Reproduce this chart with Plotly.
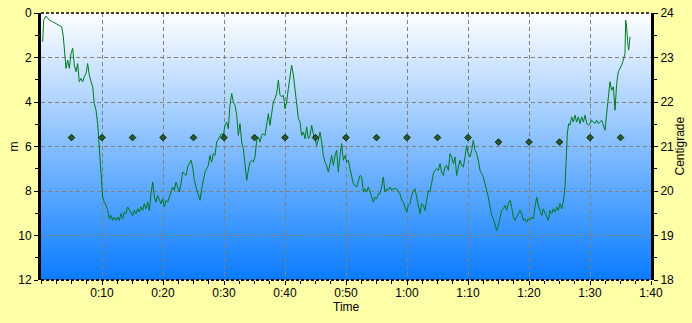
import base64
import plotly.graph_objects as go

# ---------------- data ----------------
time_min = [
    0.27, 0.44, 0.82, 1.37, 1.91, 2.46, 3.01, 3.39, 3.66, 3.83, 4.10, 4.37, 4.64, 4.92, 5.19, 5.46, 5.74,
    6.01, 6.28, 6.56, 6.83, 7.10, 7.38, 7.65, 7.92, 8.20, 8.47, 8.74, 9.02, 9.29, 9.56, 9.84, 10.11,
    10.38, 10.66, 10.93, 11.20, 11.48, 11.75, 12.02, 12.30, 12.57, 12.84, 13.11, 13.39, 13.66, 13.93,
    14.21, 14.48, 14.75, 15.03, 15.30, 15.57, 15.85, 16.12, 16.39, 16.67, 16.94, 17.21, 17.49, 17.76,
    18.03, 18.31, 18.58, 18.85, 19.13, 19.40, 19.67, 19.95, 20.22, 20.49, 20.77, 21.04, 21.31, 21.58,
    21.86, 22.13, 22.40, 22.68, 22.95, 23.22, 23.50, 23.77, 24.04, 24.32, 24.59, 24.86, 25.14, 25.41,
    25.68, 26.07, 26.34, 26.61, 26.89, 27.16, 27.43, 27.70, 27.98, 28.25, 28.52, 28.80, 29.07, 29.34,
    29.62, 29.89, 30.16, 30.44, 30.71, 30.98, 31.26, 31.53, 31.80, 32.08, 32.35, 32.62, 32.90, 33.17,
    33.44, 33.72, 33.99, 34.26, 34.54, 34.81, 35.08, 35.36, 35.63, 35.90, 36.17, 36.45, 36.72, 36.99,
    37.27, 37.54, 37.81, 38.09, 38.36, 38.63, 38.91, 39.18, 39.45, 39.73, 40.00, 40.27, 40.55, 40.82,
    41.09, 41.37, 41.64, 41.91, 42.19, 42.46, 42.73, 43.01, 43.28, 43.55, 43.83, 44.10, 44.37, 44.64,
    44.92, 45.19, 45.46, 45.74, 46.01, 46.28, 46.56, 46.83, 47.10, 47.38, 47.65, 47.92, 48.20, 48.47,
    48.74, 49.02, 49.29, 49.56, 49.84, 50.11, 50.38, 50.66, 51.20, 51.75, 52.30, 52.57, 52.84, 53.11,
    53.39, 53.66, 53.93, 54.21, 54.48, 54.75, 55.03, 55.30, 55.57, 55.85, 56.12, 56.39, 56.67, 56.94,
    57.21, 57.49, 57.76, 58.31, 58.58, 58.85, 59.13, 59.40, 59.67, 59.95, 60.22, 60.49, 60.77, 61.04,
    61.31, 61.58, 61.86, 62.13, 62.40, 62.68, 62.95, 63.22, 63.50, 63.77, 64.04, 64.32, 64.59, 64.86,
    65.14, 65.41, 65.68, 65.96, 66.23, 66.50, 66.78, 67.05, 67.32, 67.60, 67.87, 68.14, 68.42, 68.69,
    68.96, 69.23, 69.51, 69.78, 70.05, 70.33, 70.60, 70.87, 71.15, 71.42, 71.69, 71.97, 72.24, 72.51,
    72.79, 73.06, 73.33, 73.61, 73.88, 74.15, 74.43, 74.70, 74.97, 75.25, 75.52, 75.79, 76.07, 76.34,
    76.61, 76.89, 77.16, 77.43, 77.70, 77.98, 78.25, 78.52, 78.80, 79.07, 79.34, 79.62, 79.89, 80.16,
    80.44, 80.71, 80.98, 81.26, 81.53, 81.80, 82.08, 82.35, 82.62, 82.90, 83.17, 83.44, 83.72, 83.99,
    84.26, 84.54, 84.81, 85.08, 85.36, 85.63, 85.90, 86.07, 86.28, 86.50, 86.72, 86.99, 87.27, 87.54,
    87.81, 88.09, 88.36, 88.63, 88.91, 89.18, 89.45, 89.73, 90.00, 90.27, 90.55, 90.82, 91.09, 91.37,
    91.64, 91.91, 92.19, 92.46, 92.73, 93.01, 93.28, 93.55, 93.83, 94.10, 94.37, 94.64, 94.92, 95.19,
    95.46, 95.74, 95.85, 96.01, 96.17, 96.34, 96.56,
]
depth_m = [
    1.29, 0.32, 0.14, 0.32, 0.39, 0.47, 0.54, 0.62, 1.07, 1.67, 2.49, 2.12, 2.49, 1.82, 1.59, 2.34, 2.64,
    2.27, 3.09, 2.94, 3.09, 2.87, 2.72, 2.27, 2.79, 3.09, 3.32, 4.07, 4.37, 4.97, 6.17, 7.37, 8.27,
    8.50, 8.65, 8.87, 9.25, 9.10, 9.32, 9.17, 9.32, 9.17, 9.32, 9.02, 9.25, 8.94, 9.02,
    8.72, 8.87, 9.02, 9.10, 8.87, 9.02, 8.80, 8.94, 8.72, 8.87, 8.57, 8.80, 8.50, 8.87,
    8.12, 7.60, 8.27, 8.50, 8.20, 8.42, 8.57, 8.35, 8.72, 8.42, 8.50, 8.27, 8.05, 7.82,
    7.97, 7.60, 7.82, 8.05, 7.67, 7.15, 7.22, 7.30, 6.92, 6.77, 6.62, 6.92, 7.52, 7.82,
    8.05, 8.42, 7.90, 7.45, 7.15, 7.00, 6.85, 6.40, 6.70, 6.32, 6.40, 5.80, 5.65, 5.50,
    5.42, 5.50, 5.05, 4.90, 5.20, 4.14, 3.62, 4.00, 4.14, 4.59, 5.50, 4.97, 5.80, 6.10,
    6.70, 7.52, 7.07, 6.70, 6.62, 6.70, 6.47, 5.72, 5.57, 5.80, 5.50, 5.42, 5.50, 5.05,
    4.52, 5.05, 4.59, 4.00, 3.84, 3.62, 3.02, 3.69, 3.77, 3.69, 4.30, 4.00, 3.39, 2.79,
    2.34, 2.79, 3.39, 4.00, 4.74, 4.90, 5.50, 5.35, 5.65, 5.12, 5.65, 5.50, 5.05, 5.42,
    5.65, 5.95, 5.72, 5.35, 5.80, 6.40, 6.70, 6.85, 7.15, 6.70, 6.40, 6.85, 6.40, 6.17,
    7.15, 6.40, 5.87, 6.62, 6.40, 6.70, 6.62, 7.00, 7.67, 7.82, 7.30, 7.37, 8.05, 7.90,
    8.05, 7.82, 8.05, 8.27, 8.50, 8.27, 8.35, 8.12, 8.12, 7.82, 7.37, 8.05, 7.90, 7.97,
    7.82, 7.97, 7.90, 7.90, 8.05, 8.12, 8.42, 8.50, 8.72, 8.95, 8.65, 8.57, 8.20, 7.97,
    7.90, 8.27, 8.72, 9.02, 8.57, 8.65, 8.87, 8.50, 7.97, 8.05, 7.60, 7.22, 7.07, 7.00,
    7.07, 6.77, 7.15, 7.30, 6.92, 6.85, 7.07, 6.32, 6.47, 6.77, 6.47, 7.30, 6.92, 6.62,
    6.85, 6.92, 6.47, 5.95, 6.32, 6.47, 6.17, 5.72, 6.17, 6.32, 6.62, 7.07, 7.22, 7.37,
    7.67, 7.97, 8.27, 8.72, 9.10, 9.25, 9.47, 9.77, 9.55, 9.17, 8.87, 8.80, 8.65, 8.87,
    8.57, 8.42, 8.72, 9.17, 9.32, 9.17, 9.02, 8.87, 9.02, 9.32, 9.25, 9.40, 9.25, 9.32,
    9.17, 9.25, 8.72, 8.27, 8.65, 8.87, 9.10, 8.80, 9.02, 9.17, 9.32, 8.87, 9.02, 8.80,
    8.94, 8.72, 8.87, 8.57, 8.80, 8.50, 7.82, 6.62, 5.42, 4.97, 5.04, 4.67, 4.90, 4.59,
    4.90, 4.67, 4.97, 4.67, 4.90, 4.59, 4.97, 5.04, 4.97, 4.82, 4.90, 4.97, 4.82, 4.97,
    4.90, 4.82, 5.04, 5.27, 4.52, 3.77, 3.09, 3.47, 3.32, 4.37, 3.17, 2.64, 2.49, 2.34,
    2.12, 1.82, 0.32, 0.62, 1.29, 1.67, 1.07,
]

temp_time_min = [5, 10, 15, 20, 25, 30, 35, 40, 45, 50, 55, 60, 65, 70, 75, 80, 85, 90, 95]
temp_c = [21.2, 21.2, 21.2, 21.2, 21.2, 21.2, 21.2, 21.2, 21.2, 21.2, 21.2, 21.2, 21.2, 21.2,
          21.1, 21.1, 21.1, 21.2, 21.2]

x_tick_vals = [10, 20, 30, 40, 50, 60, 70, 80, 90, 100]
x_tick_text = ["0:10", "0:20", "0:30", "0:40", "0:50", "1:00", "1:10", "1:20", "1:30", "1:40"]
depth_ticks = [0, 2, 4, 6, 8, 10, 12]
temp_ticks = [18, 19, 20, 21, 22, 23, 24]

# ---------------- styling ----------------
PAPER = "#FFFFA8"
FONT = dict(family="Liberation Sans, Arial, sans-serif", size=12, color="#000000")
GRID_DASH = "4px,3px"

svg = (
    '<svg xmlns="http://www.w3.org/2000/svg" width="10" height="100" viewBox="0 0 10 100" '
    'preserveAspectRatio="none"><defs><linearGradient id="g" x1="0" y1="0" x2="0" y2="1">'
    '<stop offset="0" stop-color="#FFFFFF"/><stop offset="1" stop-color="#0A7CFF"/>'
    '</linearGradient></defs><rect x="0" y="0" width="10" height="100" fill="url(#g)"/></svg>'
)
gradient_uri = "data:image/svg+xml;base64," + base64.b64encode(svg.encode()).decode()

fig = go.Figure()
fig.add_trace(go.Scatter(
    x=time_min, y=depth_m, mode="lines",
    line=dict(color="#007A1E", width=1),
    yaxis="y", showlegend=False, hoverinfo="skip",
))
fig.add_trace(go.Scatter(
    x=temp_time_min, y=temp_c, mode="markers",
    marker=dict(symbol="diamond", size=5, color="#2A5A2A", line=dict(color="#0A200A", width=1)),
    yaxis="y2", showlegend=False, hoverinfo="skip",
))

fig.update_layout(
    width=692, height=323,
    margin=dict(l=41, r=41, t=13, b=43, pad=0),
    paper_bgcolor=PAPER,
    plot_bgcolor="rgba(0,0,0,0)",
    font=FONT,
    showlegend=False,
    images=[dict(source=gradient_uri, xref="paper", yref="paper", x=0, y=1,
                 sizex=1, sizey=1, sizing="stretch", layer="below", xanchor="left", yanchor="top")],
    xaxis=dict(
        range=[0, 100], tickvals=x_tick_vals, ticktext=x_tick_text, automargin=False,
        showgrid=True, gridcolor="#808080", griddash=GRID_DASH, gridwidth=1,
        showline=False,
        ticks="outside", ticklen=4, tickcolor="#000000", zeroline=False,
        ticklabelstandoff=-2,
        minor=dict(dtick=2.5, ticks="outside", ticklen=3, tickcolor="#000000", showgrid=False),
        tickfont=FONT,
    ),
    yaxis=dict(
        range=[12, 0], tickvals=depth_ticks, automargin=False,
        showgrid=True, gridcolor="#808080", griddash=GRID_DASH, gridwidth=1,
        showline=True, linecolor="#000000", linewidth=3,
        ticks="outside", ticklen=4, tickcolor="#000000", zeroline=False,
        minor=dict(dtick=1, ticks="outside", ticklen=3, tickcolor="#000000", showgrid=False),
        tickfont=FONT,
    ),
    yaxis2=dict(
        range=[18, 24], tickvals=temp_ticks, overlaying="y", side="right", automargin=False,
        showgrid=False, showline=True, linecolor="#000000", linewidth=3,
        ticks="outside", ticklen=4, tickcolor="#000000", zeroline=False,
        minor=dict(dtick=0.5, ticks="outside", ticklen=3, tickcolor="#000000", showgrid=False),
        tickfont=FONT,
    ),
    annotations=[
        dict(text="Time", xref="paper", yref="paper", x=0.5, y=0, xanchor="center",
             yanchor="middle", yshift=-27, showarrow=False, font=FONT),
        dict(text="m", xref="paper", yref="paper", x=0, y=0.5, xanchor="center",
             yanchor="middle", xshift=-28, textangle=-90, showarrow=False, font=FONT),
        dict(text="Centigrade", xref="paper", yref="paper", x=1, y=0.5, xanchor="center",
             yanchor="middle", xshift=28, textangle=-90, showarrow=False, font=FONT),
    ],
    shapes=[
        dict(type="line", xref="paper", yref="paper", x0=0, x1=1, y0=1, y1=1,
             line=dict(color="#000000", width=1.5, dash="3px,2px"), layer="above"),
        dict(type="line", xref="paper", yref="paper", x0=0, x1=1, y0=0, y1=0,
             line=dict(color="#000000", width=2, dash="3px,2px"), layer="above"),
    ],
)

fig.write_html("out.html")
